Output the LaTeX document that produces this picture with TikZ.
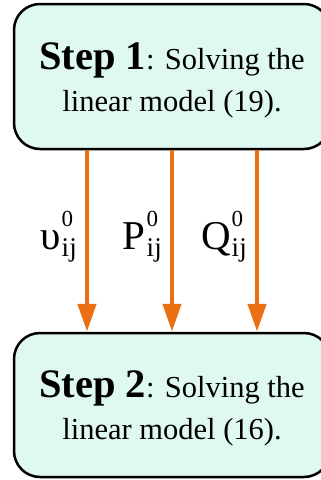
\documentclass[tikz,border=0pt]{standalone}
\usepackage{fontspec}
\setmainfont{Liberation Serif}
\usetikzlibrary{arrows.meta}
\definecolor{stepfill}{RGB}{223,248,240}
\definecolor{flowline}{RGB}{235,112,20}
\newcommand{\supsub}[3]{#1\hspace{1pt}\rlap{\raisebox{23pt}{\fontsize{23}{23}\selectfont #2}}\raisebox{-7pt}{\fontsize{27}{27}\selectfont #3}}
\begin{document}
\begin{tikzpicture}[x=1pt,y={(0pt,-1pt)},
  stepbox/.style={draw=black,line width=2.5pt,fill=stepfill,rounded corners=26pt,minimum width=316pt,align=center,font=\fontsize{30.5}{42}\selectfont},
  flow/.style={draw=flowline,line width=4.5pt,-{Triangle[length=28pt,width=18pt]}},
  var/.style={inner sep=0pt,font=\fontsize{41}{41}\selectfont}]
\useasboundingbox (0,0) rectangle (321,480);
\clip (0,0) rectangle (321,480);
\node[stepbox,minimum height=145pt] (s1) at (172,76.5) {\rule{0pt}{34pt}{\fontsize{40.5}{42}\selectfont\bfseries Step 1}: Solving the\\linear model (19).};
\node[stepbox,minimum height=144pt] (s2) at (172,405) {\rule{0pt}{34pt}{\fontsize{40.5}{42}\selectfont\bfseries Step 2}: Solving the\\linear model (16).};
\draw[flow] ([xshift=-85pt]s1.south) -- node[var,left=8pt,yshift=4pt] (v) {\supsub{υ}{0}{ij}} ([xshift=-85pt]s2.north);
\draw[flow] (s1.south) -- node[var,left=8pt,yshift=4pt] (p) {\supsub{P}{0}{ij}} (s2.north);
\draw[flow] ([xshift=85pt]s1.south) -- node[var,left=8pt,yshift=4pt] (q) {\supsub{Q}{0}{ij}} ([xshift=85pt]s2.north);
\end{tikzpicture}
\end{document}
